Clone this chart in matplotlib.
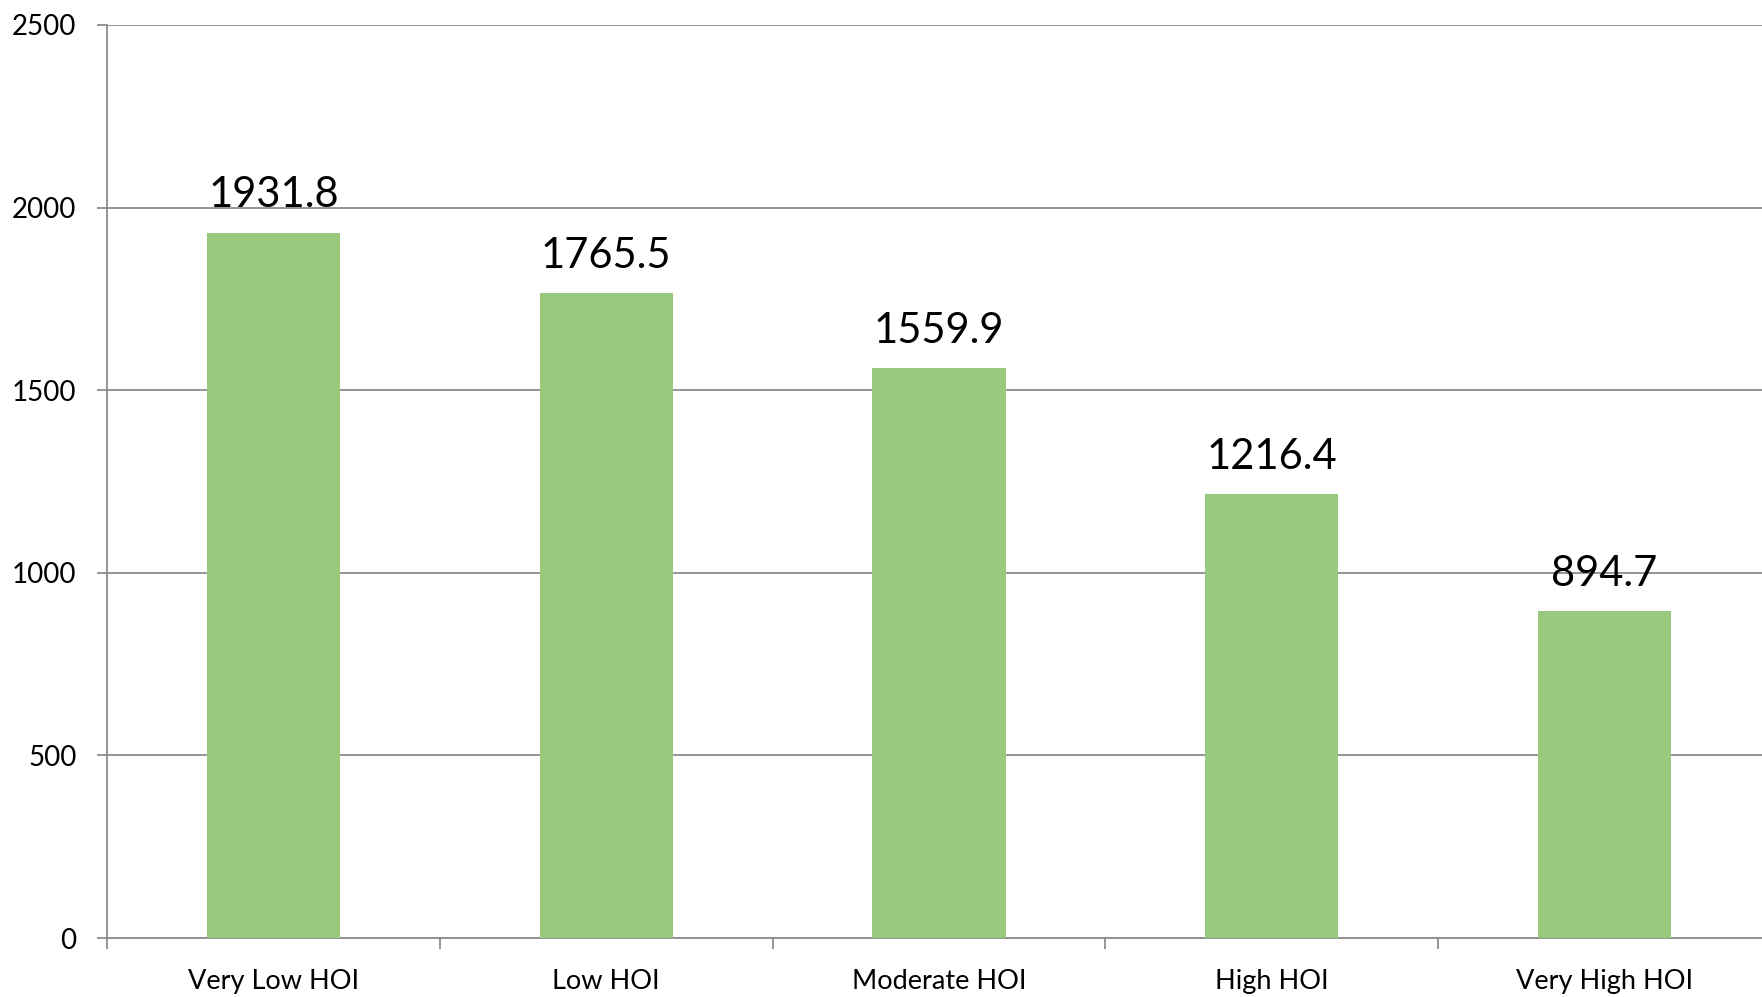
import numpy as np
import matplotlib.pyplot as plt

categories = ['Very Low HOI', 'Low HOI', 'Moderate HOI', 'High HOI', 'Very High HOI']
values = [1931.8, 1765.5, 1559.9, 1216.4, 894.7]
yticks = [0, 500, 1000, 1500, 2000, 2500]

plt.rcParams['font.family'] = ['Lato', 'DejaVu Sans']
grey = '#8c8c8c'

fig = plt.figure(figsize=(17.62, 9.97), dpi=100)
ax = fig.add_axes([107 / 1762, 59 / 997, 1664 / 1762, 913 / 997])

x = np.arange(len(categories))
bars = ax.bar(x, values, width=0.4, color='#98c97c', zorder=3)
for b, v in zip(bars, values):
    ax.annotate(f'{v:.1f}', (b.get_x() + b.get_width() / 2, v),
                xytext=(0, 13), textcoords='offset points',
                ha='center', va='bottom', fontsize=30)

ax.set_xlim(-0.5, len(categories) - 0.5)
ax.set_ylim(0, 2500)
ax.set_yticks(yticks)
ax.set_yticklabels([str(t) for t in yticks], fontsize=20)
ax.yaxis.grid(True, color=grey, linewidth=1.3, zorder=0)
ax.tick_params(axis='y', length=7, width=1.3, color=grey, pad=15)

ax.set_xticks(np.arange(len(categories) + 1) - 0.5)
ax.set_xticklabels([])
ax.set_xticks(x, minor=True)
ax.set_xticklabels(categories, minor=True, fontsize=19.5)
ax.tick_params(axis='x', which='major', length=8, width=1.3, color=grey)
ax.tick_params(axis='x', which='minor', length=0, pad=22)

for s in ['top', 'right']:
    ax.spines[s].set_visible(False)
for s in ['left', 'bottom']:
    ax.spines[s].set_color(grey)
    ax.spines[s].set_linewidth(1.3)

fig.savefig('out.png', dpi=100)
